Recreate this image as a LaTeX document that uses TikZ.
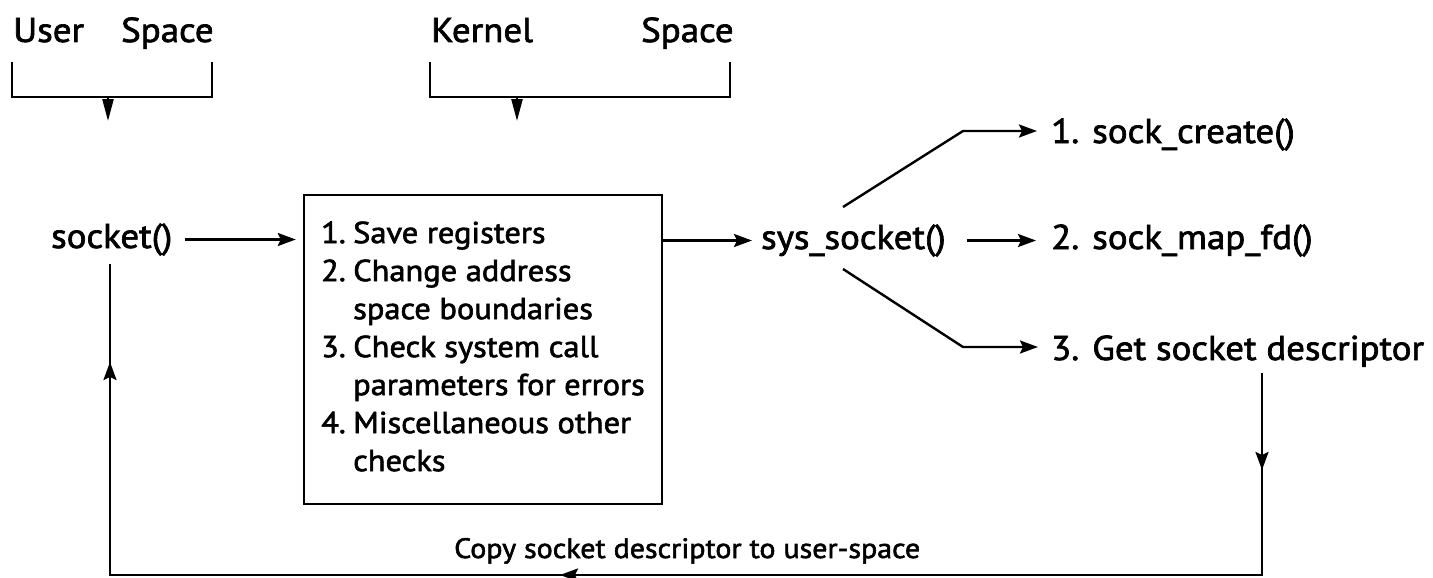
\documentclass[tikz,border=0pt]{standalone}
\usepackage{fontspec}
\setmainfont{PT Sans}[FakeStretch=1.07,FakeBold=2]
\usetikzlibrary{arrows.meta,decorations.markings}

\begin{document}
\begin{tikzpicture}[x=1pt,y=-1pt,
  line width=2.4pt,
  every node/.style={inner sep=0pt, font=\fontsize{34.5}{40}\selectfont},
  lbl/.style={anchor=base west},
  boxfont/.style={font=\fontsize{30.3}{38}\selectfont},
  tip/.style={-{Stealth[length=18pt,width=13pt,inset=3pt]}},
  bracetip/.style={-{Triangle[length=22pt,width=11pt]}},
  brace/.style={line cap=butt},
  loopline/.style={decoration={markings,
      mark=at position 97pt with {\arrow{Stealth[length=18pt,width=13pt,inset=3pt]}},
      mark=at position 904pt with {\arrow{Stealth[length=18pt,width=13pt,inset=3pt]}},
      mark=at position 1567pt with {\arrow{Stealth[length=18pt,width=13pt,inset=3pt]}}},
    postaction=decorate}
]
\useasboundingbox (0,0) rectangle (1433,578);

% headings with their brackets
\node[lbl] (user) at (12,42) {User};
\node[lbl] (uspace) at (120,42) {Space};
\node[lbl] (kernel) at (430,42) {Kernel};
\node[lbl] (kspace) at (640,42) {Space};
\draw[brace] (12,62) |- (212,97) -- (212,62);
\draw[bracetip] (108,97) -- (108,121);
\draw[brace] (430,62) |- (730,97) -- (730,62);
\draw[bracetip] (517,97) -- (517,121);

% call chain
\node[lbl] (sock) at (50,248) {socket()};
\node[draw, boxfont, minimum width=358pt, minimum height=309pt] (box) at (483,349.5)
  {\begin{tabular}{@{}p{32pt}@{}l@{}}
   1. & Save registers\\
   2. & Change address\\
      & space boundaries\\
   3. & Check system call\\
      & parameters for errors\\
   4. & Miscellaneous other\\
      & checks
   \end{tabular}};
\node[lbl] (sys) at (760,249) {sys\_socket()};
\node[lbl] (create) at (1050,143) {1. sock\_create()};
\node[lbl] (mapfd) at (1050,249) {2. sock\_map\_fd()};
\node[lbl] (getsd) at (1050,360) {3. Get socket descriptor};
\node[lbl, font=\fontsize{28}{32}\selectfont] (copy) at (453,558)
  {Copy socket descriptor to user-space};

\draw[tip, shorten <=11pt, shorten >=7pt] (sock.east) -- (sock.east -| box.west);
\draw[tip, shorten >=8pt] (box.east |- sys.west) -- (sys.west);
\draw[tip, shorten <=20pt, shorten >=14pt] (sys.east) -- (mapfd.west);

\coordinate (bu) at (843,207);
\coordinate (cu) at (963,131);
\coordinate (bd) at (843,269);
\coordinate (cd) at (963,347);
\draw[tip, shorten >=13pt] (bu) -- (cu) -- (cu -| create.west);
\draw[tip, shorten >=12pt] (bd) -- (cd) -- (cd -| getsd.west);

% return path back to user space
\coordinate (d1) at (1262,373);
\coordinate (d2) at (1262,575);
\coordinate (d3) at (110,575);
\draw[loopline, shorten >=7pt] (d1) -- (d2) -- (d3) -- (d3 |- sock.south);
\end{tikzpicture}
\end{document}
